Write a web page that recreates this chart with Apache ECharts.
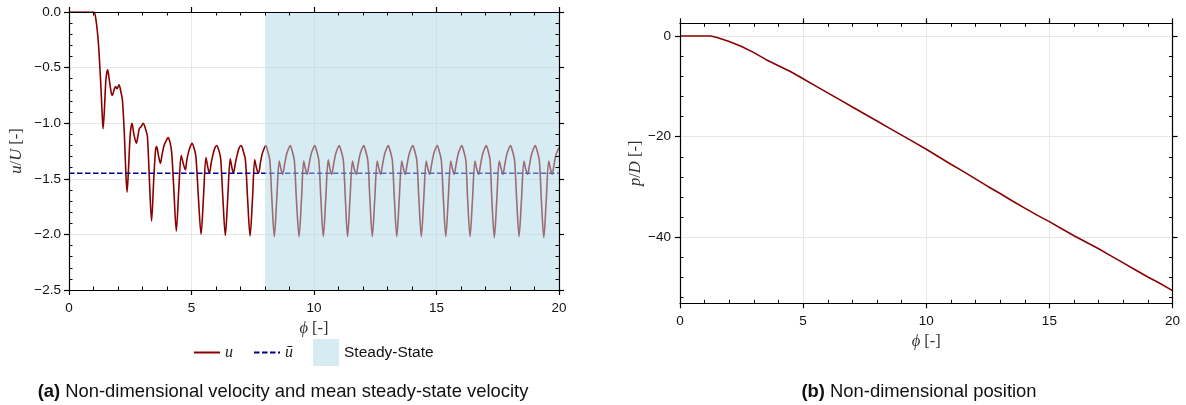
<!DOCTYPE html>
<html><head><meta charset="utf-8">
<script src="https://cdn.jsdelivr.net/npm/echarts@6/dist/echarts.min.js"></script>
<style>html,body{margin:0;padding:0;background:#fff}#c{width:1186px;height:405px}</style>
</head><body><div id="c"></div>
<script>
// ---------- data ----------
const uPhi = [0, 0.5, 1.0, 1.1, 1.2, 1.29, 1.35, 1.39, 1.44, 1.51,
  1.58, 1.65, 1.72, 1.77, 1.84, 1.90, 1.96, 2.04, 2.12, 2.18,
  2.26, 2.32, 2.37, 2.42, 2.50, 2.57, 2.65, 2.75, 2.81, 2.87,
  2.95, 3.03, 3.12, 3.20, 3.28, 3.37, 3.46, 3.53, 3.58, 3.65,
  3.73, 3.80, 3.88, 3.96, 4.04, 4.12, 4.19, 4.28, 4.38, 4.48,
  4.58, 4.66, 4.75, 4.81, 4.88, 4.95, 5.02, 5.10, 5.18, 5.28,
  5.39, 5.49, 5.59, 5.66, 5.73, 5.81, 5.89, 5.96, 6.03, 6.11,
  6.19, 6.28, 6.38, 6.48, 6.58, 6.65, 6.71, 6.79, 6.87, 6.95,
  7.03, 7.11, 7.20, 7.29, 7.39, 7.49, 7.58, 7.66, 7.74, 7.81,
  7.88, 7.96, 8.03,
  8.11, 8.20, 8.28, 8.38, 8.48, 8.58, 8.65, 8.72, 8.80, 8.88, 8.96, 9.03,
  9.11, 9.20, 9.28, 9.39, 9.49, 9.58, 9.65, 9.72, 9.80, 9.88, 9.96, 10.03,
  10.11, 10.20, 10.28, 10.38, 10.48, 10.58, 10.65, 10.72, 10.80, 10.88, 10.96, 11.03,
  11.11, 11.20, 11.28, 11.37, 11.47, 11.57, 11.64, 11.72, 11.80, 11.88, 11.96, 12.03,
  12.11, 12.20, 12.28, 12.38, 12.48, 12.58, 12.65, 12.72, 12.80, 12.88, 12.96, 13.03,
  13.11, 13.20, 13.28, 13.38, 13.48, 13.58, 13.65, 13.72, 13.80, 13.88, 13.96, 14.03,
  14.11, 14.20, 14.28, 14.38, 14.48, 14.58, 14.65, 14.72, 14.80, 14.88, 14.96, 15.03,
  15.11, 15.20, 15.28, 15.38, 15.48, 15.58, 15.65, 15.72, 15.80, 15.88, 15.96, 16.03,
  16.11, 16.20, 16.27, 16.37, 16.47, 16.57, 16.64, 16.72, 16.80, 16.88, 16.96, 17.03,
  17.11, 17.19, 17.26, 17.36, 17.46, 17.56, 17.64, 17.71, 17.79, 17.87, 17.95, 18.02,
  18.10, 18.19, 18.27, 18.37, 18.47, 18.57, 18.64, 18.72, 18.80, 18.88, 18.96, 19.03,
  19.11, 19.20, 19.28, 19.38, 19.48, 19.58, 19.65, 19.72, 19.80, 19.88, 19.96, 20.0];
const uVal = [0, 0, 0, -0.07, -0.28, -0.62, -0.9, -1.05, -0.9, -0.6,
  -0.52, -0.62, -0.72, -0.75, -0.7, -0.67, -0.69, -0.655, -0.72, -0.79,
  -1.1, -1.45, -1.62, -1.45, -1.1, -1.0, -1.1, -1.18, -1.12, -1.05,
  -1.03, -1.0, -1.05, -1.12, -1.5, -1.88, -1.5, -1.25, -1.21, -1.29,
  -1.36, -1.28, -1.2, -1.16, -1.13, -1.17, -1.26, -1.6, -1.97, -1.6,
  -1.29, -1.36, -1.42, -1.33, -1.26, -1.21, -1.18, -1.22, -1.3, -1.66,
  -2.0, -1.66, -1.31, -1.39, -1.45, -1.35, -1.27, -1.22, -1.2, -1.24,
  -1.32, -1.67, -2.01, -1.67, -1.32, -1.4, -1.45, -1.36, -1.28, -1.22,
  -1.2, -1.25, -1.33, -1.68, -2.015, -1.68, -1.33, -1.41, -1.45, -1.36,
  -1.28, -1.23, -1.2,
  -1.25, -1.34, -1.68, -2.02, -1.68, -1.34, -1.41, -1.46, -1.37, -1.28, -1.23, -1.20,
  -1.25, -1.34, -1.68, -2.02, -1.68, -1.34, -1.41, -1.46, -1.37, -1.28, -1.23, -1.20,
  -1.25, -1.34, -1.68, -2.02, -1.68, -1.33, -1.41, -1.46, -1.37, -1.28, -1.23, -1.20,
  -1.25, -1.34, -1.68, -2.02, -1.68, -1.34, -1.41, -1.46, -1.37, -1.28, -1.23, -1.20,
  -1.25, -1.34, -1.68, -2.02, -1.68, -1.34, -1.41, -1.46, -1.37, -1.28, -1.23, -1.20,
  -1.25, -1.34, -1.68, -2.02, -1.68, -1.34, -1.41, -1.46, -1.37, -1.28, -1.23, -1.20,
  -1.25, -1.34, -1.68, -2.02, -1.68, -1.34, -1.41, -1.46, -1.37, -1.28, -1.23, -1.20,
  -1.25, -1.34, -1.68, -2.02, -1.68, -1.34, -1.41, -1.46, -1.37, -1.28, -1.23, -1.20,
  -1.25, -1.34, -1.68, -2.02, -1.68, -1.34, -1.41, -1.46, -1.37, -1.28, -1.23, -1.20,
  -1.25, -1.34, -1.69, -2.03, -1.69, -1.34, -1.41, -1.46, -1.37, -1.28, -1.23, -1.20,
  -1.25, -1.34, -1.68, -2.02, -1.68, -1.34, -1.41, -1.46, -1.37, -1.28, -1.23, -1.20,
  -1.25, -1.34, -1.69, -2.03, -1.69, -1.34, -1.41, -1.46, -1.37, -1.28, -1.24, -1.22];
const uMean = -1.45;
const ssStart = 8, ssEnd = 20;

const pPhi = [0, 0.5, 1.0, 1.25, 1.5, 2.0, 2.5, 3.0, 3.5, 4.0, 4.5, 5.0, 5.5, 6.0,
  6.5, 7.0, 7.5, 8.0, 8.5, 9.0, 9.5, 10.0, 10.5, 11.0, 11.5, 12.0, 12.5, 13.0,
  13.5, 14.0, 14.5, 15.0, 15.5, 16.0, 16.5, 17.0, 17.5, 18.0, 18.5, 19.0, 19.5, 20.0];
const pVal = [0, 0, 0, 0, -0.3, -1.1, -2.1, -3.3, -4.7, -5.9, -7.1, -8.5, -9.9, -11.3,
  -12.7, -14.1, -15.5, -16.9, -18.3, -19.7, -21.1, -22.5, -24.0, -25.5, -26.9, -28.4, -29.9, -31.3,
  -32.8, -34.2, -35.6, -36.9, -38.3, -39.7, -41.0, -42.3, -43.7, -45.1, -46.5, -47.9, -49.2, -50.6];

// tick labels / tick positions
const xTicks = [0, 5, 10, 15, 20];
const xMinor = [1, 2, 3, 4, 6, 7, 8, 9, 11, 12, 13, 14, 16, 17, 18, 19];
const uTicks = [-2.5, -2.0, -1.5, -1.0, -0.5, 0.0];
const uMinor = [-2.4, -2.3, -2.2, -2.1, -1.9, -1.8, -1.7, -1.6, -1.4, -1.3, -1.2, -1.1,
  -0.9, -0.8, -0.7, -0.6, -0.4, -0.3, -0.2, -0.1];
const pTicks = [-40, -20, 0];
const pMinor = [-52, -48, -44, -36, -32, -28, -24, -16, -12, -8, -4];

// ---------- chart ----------
const FONT = "'Liberation Sans', Arial, sans-serif";
const SERIF = "'Liberation Serif', 'DejaVu Serif', serif";
const LBL = {fontSize: 13.5, fontFamily: FONT, color: '#111'};
const BLK = {color: '#000', width: 1.2};
const nameRich = {
  i: {fontFamily: SERIF, fontStyle: 'italic', fontSize: 16.5, color: '#333'},
  n: {fontFamily: SERIF, fontSize: 16.5, color: '#333'}
};
const minus = s => s.replace('-', '\u2212');
const fmt1 = v => minus(Math.abs(v) < 1e-9 ? '0.0' : v.toFixed(1));
const fmt0 = v => minus(String(Math.round(v)));

function axisSet(grid, min, max, major, minor, posMain, posOther, fmt, margin, name, nameGap) {
  const b = {gridIndex: grid, type: 'value', min: min, max: max, z: 10, silent: true};
  const off = {axisLine: {show: false, onZero: false}, axisLabel: {show: false}, splitLine: {show: false}};
  return [
    Object.assign({}, b, {
      position: posMain,
      axisLine: {show: true, onZero: false, lineStyle: BLK},
      axisTick: {show: true, inside: false, length: 5, customValues: major, lineStyle: BLK},
      axisLabel: Object.assign({show: true, customValues: major, formatter: fmt, margin: margin}, LBL),
      splitLine: {show: false},
      name: name, nameLocation: 'middle', nameGap: nameGap,
      nameTextStyle: {rich: nameRich, color: '#333'}
    }),
    Object.assign({}, b, off, {position: posMain,
      axisTick: {show: true, inside: true, length: 3.5, customValues: minor, lineStyle: {color: '#000', width: 1}}}),
    Object.assign({}, b, {position: posOther,
      axisLine: {show: true, onZero: false, lineStyle: BLK},
      axisTick: {show: true, inside: false, length: 5, customValues: major, lineStyle: BLK},
      axisLabel: {show: false}, splitLine: {show: false}}),
    Object.assign({}, b, off, {position: posOther,
      axisTick: {show: true, inside: true, length: 3.5, customValues: minor, lineStyle: {color: '#000', width: 1}}}),
    Object.assign({}, b, {z: 0, position: posMain,
      axisLine: {show: false, onZero: false}, axisLabel: {show: false},
      axisTick: {show: false, customValues: major},
      splitLine: {show: true, lineStyle: {color: '#e6e6e6', width: 1}}})
  ];
}

const zip = (a, b) => a.map((v, i) => [v, b[i]]);

const xAxes = [].concat(
  axisSet(0, 0, 20, xTicks, xMinor, 'bottom', 'top', fmt0, 11, '{i|\u03d5}{n| [-]}', 30),
  axisSet(1, 0, 20, xTicks, xMinor, 'bottom', 'top', fmt0, 11, '{i|\u03d5}{n| [-]}', 27)
);
const yAxes = [].concat(
  axisSet(0, -2.5, 0, uTicks, uMinor, 'left', 'right', fmt1, 8, '{i|u}{n|/}{i|U}{n| [-]}', 44),
  axisSet(1, -53.13, 2.53, pTicks, pMinor, 'left', 'right', fmt0, 9, '{i|p}{n|/}{i|D}{n| [-]}', 35)
);
yAxes.forEach(a => { if (a.name) a.nameRotate = 90; });

const chart = echarts.init(document.getElementById('c'), null, {renderer: 'canvas'});
chart.setOption({
  animation: false,
  backgroundColor: '#fff',
  grid: [
    {left: 69, top: 12, width: 490, height: 278},
    {left: 680, top: 23.3, width: 492.5, height: 280}
  ],
  xAxis: xAxes,
  yAxis: yAxes,
  legend: {
    left: 188, top: 334, itemWidth: 26, itemHeight: 27, itemGap: 20,
    itemStyle: {opacity: 0},
    data: [
      {name: 'u'},
      {name: '\u016b'},
      {name: 'Steady-State', icon: 'rect', itemStyle: {opacity: 1, color: 'rgba(173,216,230,0.5)'}}
    ],
    formatter: n => n === 'Steady-State' ? n : '{m|' + n + '}',
    textStyle: {fontSize: 15.5, fontFamily: FONT, color: '#111',
      rich: {m: {fontFamily: SERIF, fontStyle: 'italic', fontSize: 16, color: '#222'}}}
  },
  series: [
    {
      name: 'u', type: 'line', xAxisIndex: 0, yAxisIndex: 0, z: 2,
      data: zip(uPhi, uVal), symbol: 'none', smooth: 0.3,
      color: '#8b0000', lineStyle: {color: '#8b0000', width: 1.6}
    },
    {
      name: '\u016b', type: 'line', xAxisIndex: 0, yAxisIndex: 0, z: 3,
      data: [[0, uMean], [20, uMean]], symbol: 'none',
      color: '#00008b', lineStyle: {color: '#00008b', width: 1.5, type: [5.5, 2.5]}
    },
    {
      name: 'Steady-State', type: 'line', xAxisIndex: 0, yAxisIndex: 0, z: 5,
      data: [], symbol: 'none', color: 'rgba(173,216,230,0.5)',
      markArea: {silent: true, z: 6, itemStyle: {color: 'rgba(173,216,230,0.5)'},
        data: [[{xAxis: ssStart}, {xAxis: ssEnd}]]}
    },
    {
      name: 'p', type: 'line', xAxisIndex: 5, yAxisIndex: 5, z: 2,
      data: zip(pPhi, pVal), symbol: 'none',
      color: '#8b0000', lineStyle: {color: '#8b0000', width: 1.6}
    }
  ],
  graphic: [
    {type: 'text', x: 283, y: 392, silent: true,
      style: {text: '{b|(a)} Non-dimensional velocity and mean steady-state velocity',
        align: 'center', verticalAlign: 'middle', fontSize: 18.4, fontFamily: FONT, fill: '#111',
        rich: {b: {fontWeight: 'bold', fontSize: 18.4, fontFamily: FONT, fill: '#111'}}}},
    {type: 'text', x: 919, y: 392, silent: true,
      style: {text: '{b|(b)} Non-dimensional position',
        align: 'center', verticalAlign: 'middle', fontSize: 18.4, fontFamily: FONT, fill: '#111',
        rich: {b: {fontWeight: 'bold', fontSize: 18.4, fontFamily: FONT, fill: '#111'}}}}
  ]
});
</script>
</body></html>
